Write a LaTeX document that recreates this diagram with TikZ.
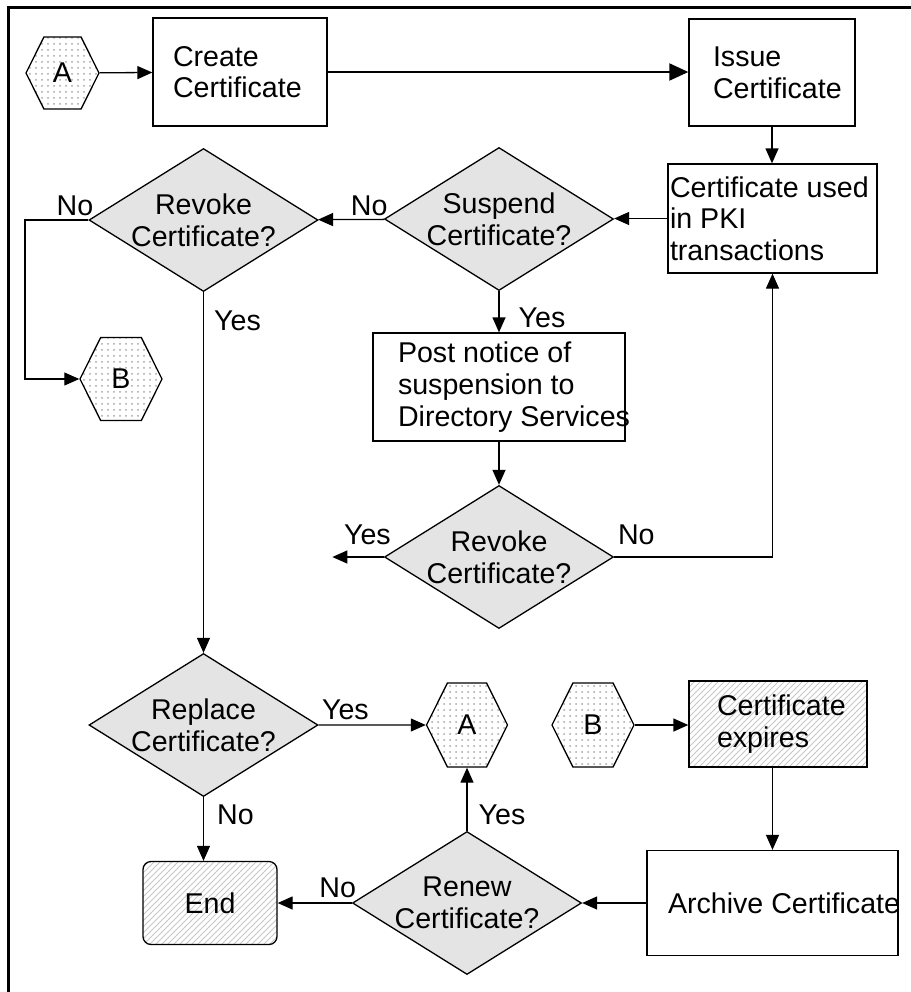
\documentclass[tikz,border=0pt]{standalone}
\usepackage{fontspec}
\setmainfont{Liberation Sans}
\usepackage{tikz}
\usetikzlibrary{arrows.meta,shapes.geometric,shapes.symbols,patterns,calc}
\usepackage{xcolor}
\definecolor{DecGray} {RGB}{228,228,228}
\definecolor{DotGray} {RGB}{165,165,165}
\definecolor{HatchGray}{RGB}{200,200,200}

\tikzset{
  flow/.style={line width=0.65pt,-{Triangle[length=7.5pt,width=6.5pt]}},
  procbox/.style={draw,line width=0.65pt,fill=white,inner sep=0pt},
  decide/.style={diamond,draw,line width=0.65pt,fill=DecGray,aspect=1.6,inner sep=0pt,
    minimum width=114.5pt,minimum height=71.5pt,align=center},
  hexlink/.style={signal,signal to=east and west,signal pointer angle=127,draw,line width=0.65pt,
    preaction={fill=white},pattern=dots,pattern color=DotGray,inner sep=0pt},
  hatched/.style={preaction={fill=white},pattern=north east lines,pattern color=HatchGray},
  lbl/.style={inner sep=0pt}
}

\begin{document}
\begin{tikzpicture}[x=0.5pt,y=-0.5pt,every node/.style={font=\fontsize{14.3}{15.8}\selectfont}]
  \useasboundingbox (0,0) rectangle (911,992);
  \draw[line width=1.25pt] (8.5,992) -- (8.5,7.5) -- (911,7.5);

  \node[hexlink,minimum width=36.5pt,minimum height=36pt] (hexA) at (62.5,73) {A};
  \node[procbox,minimum height=54pt] (create) at (240,72) {\parbox{87pt}{\leftskip=10pt Create\\Certificate}};
  \node[procbox,minimum height=53.5pt] (issue) at (772,72.5) {\parbox{83pt}{\leftskip=12pt Issue\\Certificate}};
  \node[procbox,minimum height=54.5pt] (used) at (772.5,218.5) {\parbox{104.5pt}{\leftskip=1pt \mbox{Certificate used}\\in PKI\\transactions}};
  \node[decide] (suspend) at (499,219) {Suspend\\Certificate?};
  \node[decide] (revokeA) at (203.5,220) {Revoke\\Certificate?};
  \node[hexlink,minimum width=41pt,minimum height=41.5pt] (hexB) at (121,379) {B};
  \node[procbox,minimum height=54pt] (notice) at (499,387) {\parbox{126pt}{\leftskip=12.5pt Post notice of\\suspension to\\\mbox{Directory Services}}};
  \node[decide] (revokeB) at (499,557) {Revoke\\Certificate?};
  \node[decide] (replace) at (203.5,725) {Replace\\Certificate?};
  \node[hexlink,minimum width=40.5pt,minimum height=42pt] (hexAtwo) at (467,725) {A};
  \node[hexlink,minimum width=41pt,minimum height=42pt] (hexBtwo) at (593,725) {B};
  \node[procbox,minimum height=43pt,hatched] (expires) at (778,724) {\parbox{89pt}{\leftskip=14pt Certificate\\expires}};
  \node[procbox,minimum height=52.5pt] (archive) at (772.5,903) {\parbox{125.5pt}{\leftskip=10.5pt \mbox{Archive Certificate}}};
  \node[decide] (renew) at (467,903) {Renew\\Certificate?};
  \node[draw,line width=0.65pt,rounded corners=4pt,hatched,minimum width=67pt,minimum height=41.5pt] (finish) at (210,903) {End};

  \draw[flow] (hexA) -- (create);
  \draw[line width=1pt,-{Triangle[length=9.5pt,width=8.5pt]}] (create.east) -- (create.east -| issue.west);
  \draw[flow] (issue.south) -- (issue.south |- used.north);
  \draw[flow] (used.west) -- (used.west -| suspend.east);
  \draw[flow] (suspend) -- node[lbl,above=1.5pt,pos=0.23] {No} (revokeA);
  \draw[flow] (revokeA.west) -- node[lbl,above=2pt,pos=0.21] {No} ++(-63.5,0) |- (hexB);
  \draw[flow] (revokeA.south) -- node[lbl,right=5pt,pos=0.08] {Yes} (replace.north);
  \draw[flow] (suspend.south) -- node[lbl,right=9.5pt,pos=0.65] {Yes} (notice.north);
  \draw[flow] (notice.south) -- (revokeB.north);
  \draw[flow] (revokeB.west) -- node[lbl,above=6pt,pos=0.32] {Yes} ++(-51.5,0);
  \draw[flow] (revokeB.east) -| node[lbl,above=6pt,pos=0.07] {No} (used.south);
  \draw[flow] (replace) -- node[lbl,above=2.5pt,pos=0.25] {Yes} (hexAtwo);
  \draw[flow] (replace.south) -- node[lbl,right=6.5pt,pos=0.28] {No} (replace.south |- finish.north);
  \draw[flow] (hexBtwo.east) -- (hexBtwo.east -| expires.west);
  \draw[flow] (archive.north |- expires.south) -- (archive.north);
  \draw[flow] (archive) -- (renew);
  \draw[flow] (renew.north) -- node[lbl,right=5.5pt,pos=0.26] {Yes} (hexAtwo.south);
  \draw[flow] (renew) -- node[lbl,above=2.5pt,pos=0.19] {No} (finish);
\end{tikzpicture}
\end{document}
